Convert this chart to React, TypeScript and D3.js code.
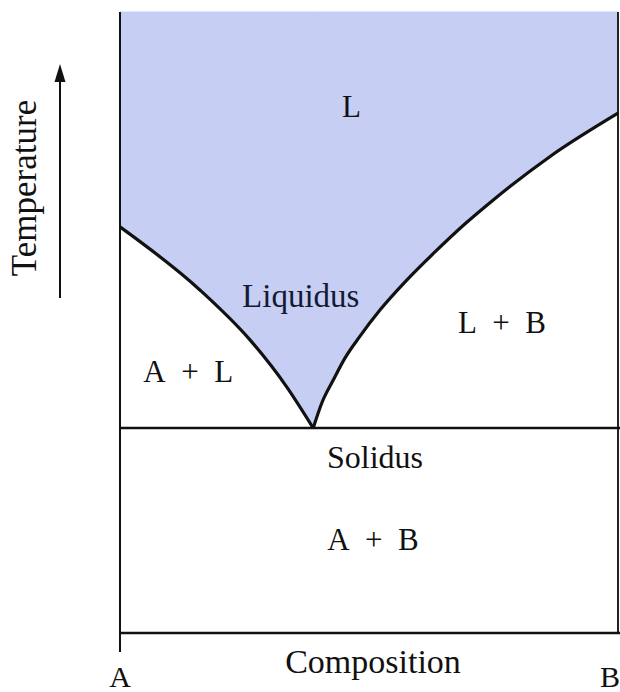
import React from "react";
import * as d3 from "d3";

// Composition (% B) and temperature (arbitrary units) of the liquidus curves
const liquidusLeftX = [0, 16.1, 26.1, 33.5, 38.8];
const liquidusLeftT = [65.4, 55.2, 47.2, 39.6, 33.0];
const liquidusRightX = [38.8, 40.6, 42.8, 45.2, 48.2, 52.2, 57.2, 63.3, 69.3, 74.9, 86.3, 100];
const liquidusRightT = [33.0, 37.2, 40.7, 44.3, 47.8, 52.0, 56.5, 61.4, 65.9, 69.7, 76.7, 83.7];
const solidusT = 33.0;
const regionLabels = ["L", "Liquidus", "L\u2002+\u2002B", "A\u2002+\u2002L", "Solidus", "A\u2002+\u2002B"];
const regionLabelX = [46.5, 36.3, 76.7, 13.7, 51.2, 50.8];
const regionLabelT = [83.1, 52.5, 48.3, 40.4, 26.5, 13.4];
const regionLabelSize = [31, 33, 31, 31, 32, 31];
const endLabels = ["A", "B"];
const endLabelX = [0, 100];

const W = 620;
const H = 692;
const FONT = "'Liberation Serif', 'Times New Roman', serif";
const FILL = "#c6cef4";

export default function App() {
  const x = d3.scaleLinear().domain([0, 100]).range([120, 618]);
  const y = d3.scaleLinear().domain([0, 100]).range([633, 12]);

  const left = liquidusLeftX.map((v, i) => [v, liquidusLeftT[i]] as [number, number]);
  const right = liquidusRightX.map((v, i) => [v, liquidusRightT[i]] as [number, number]);

  const lineGen = d3
    .line<[number, number]>()
    .x((d) => x(d[0]))
    .y((d) => y(d[1]))
    .curve(d3.curveMonotoneX);

  const areaGen = d3
    .area<[number, number]>()
    .x((d) => x(d[0]))
    .y0(() => y(100))
    .y1((d) => y(d[1]))
    .curve(d3.curveMonotoneX);

  const labelColors = ["#111", "#151a33", "#111", "#111", "#111", "#111"];

  return (
    <svg
      width={W}
      height={H}
      style={{ position: "absolute", left: 0, top: 0, background: "#fff" }}
    >
      <path d={areaGen(left) || ""} fill={FILL} stroke={FILL} strokeWidth={1} />
      <path d={areaGen(right) || ""} fill={FILL} stroke={FILL} strokeWidth={1} />
      {/* frame lines */}
      <line x1={x(0)} x2={x(0)} y1={y(100)} y2={652} stroke="#111" strokeWidth={2} />
      <line x1={x(100)} x2={x(100)} y1={y(100)} y2={y(0)} stroke="#222" strokeWidth={2} />
      <line x1={x(0)} x2={W} y1={y(0)} y2={y(0)} stroke="#111" strokeWidth={2.5} />
      <line x1={x(0)} x2={W} y1={y(solidusT)} y2={y(solidusT)} stroke="#111" strokeWidth={2.5} />
      {/* liquidus */}
      <path d={lineGen(left) || ""} fill="none" stroke="#111" strokeWidth={3.2} />
      <path d={lineGen(right) || ""} fill="none" stroke="#111" strokeWidth={3.2} />
      {/* region labels */}
      {regionLabels.map((t, i) => (
        <text
          key={t}
          x={x(regionLabelX[i])}
          y={y(regionLabelT[i])}
          textAnchor="middle"
          fontFamily={FONT}
          fontSize={regionLabelSize[i]}
          fill={labelColors[i]}
        >
          {t}
        </text>
      ))}
      {/* axis end labels */}
      {endLabels.map((t, i) => (
        <text
          key={t}
          x={i === 0 ? x(endLabelX[i]) : W}
          y={687}
          textAnchor={i === 0 ? "middle" : "end"}
          fontFamily={FONT}
          fontSize={30}
          fill="#111"
        >
          {t}
        </text>
      ))}
      <text
        x={373}
        y={673}
        textAnchor="middle"
        fontFamily={FONT}
        fontSize={34}
        fill="#111"
      >
        Composition
      </text>
      {/* temperature arrow */}
      <text
        transform="translate(36,188) rotate(-90)"
        textAnchor="middle"
        fontFamily={FONT}
        fontSize={35}
        fill="#111"
      >
        Temperature
      </text>
      <line x1={60} x2={60} y1={298} y2={78} stroke="#111" strokeWidth={2} />
      <path d="M60,64 L54.5,82 L65.5,82 Z" fill="#111" />
    </svg>
  );
}
